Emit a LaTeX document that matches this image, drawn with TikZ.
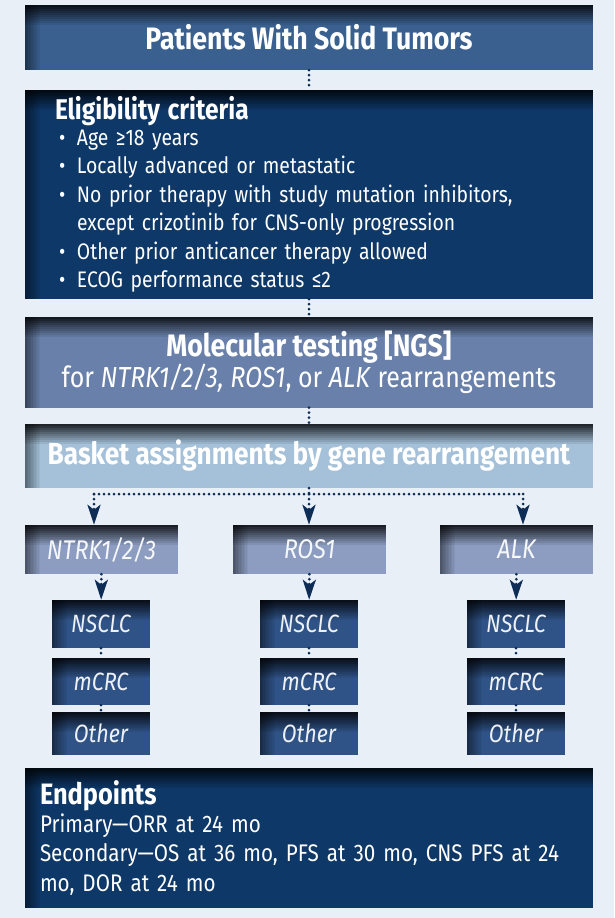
\documentclass[tikz,border=0pt]{standalone}
\usepackage{fontspec}
\setmainfont{Fira Sans}[FakeStretch=0.86]
\usetikzlibrary{arrows.meta,positioning}

\definecolor{bgpage}{HTML}{E9EFF6}
\definecolor{navy}{HTML}{0E3868}
\definecolor{midblue}{HTML}{3A6090}
\definecolor{slate}{HTML}{6981AA}
\definecolor{skyblue}{HTML}{A4C1D9}
\definecolor{lilac}{HTML}{8C9DC1}
\definecolor{leafblue}{HTML}{2F5387}
\definecolor{dotline}{HTML}{0D2D57}

\tikzset{
  panel/.style={rectangle, inner sep=0pt, text=white, align=center, fill=#1,
    path picture={
      \foreach \i [evaluate=\i as \p using {0.45-\i*0.045}] in {0,...,9}
        \fill[black, opacity=\p] ([xshift=1.5*\i pt]path picture bounding box.north west) rectangle ([xshift=1.5*\i pt+1.5pt]path picture bounding box.south west);
      \foreach \i [evaluate=\i as \p using {0.8-\i*0.08}] in {0,...,9}
        \fill[black, opacity=\p] ([yshift=-2*\i pt]path picture bounding box.north west) rectangle ([yshift=-2*\i pt-2pt]path picture bounding box.north east);
    }},
  gene/.style={panel=lilac, minimum width=153pt, minimum height=49pt, font=\fontsize{27}{30}\itshape, text=white!92!lilac},
  leaf/.style={panel=leafblue, minimum width=98pt, font=\fontsize{25}{28}\itshape, text=white!92!leafblue},
  dots/.style={draw=dotline, line width=3pt, dash pattern=on 0pt off 5pt, line cap=round},
  dotarrow/.style={dots, -{Stealth[length=20pt, width=13pt, inset=5pt]}},
}
\newcommand{\bul}{\hspace*{4pt}\makebox[18pt][l]{\textbullet}}

\begin{document}
\begin{tikzpicture}[x=1pt, y=-1pt]
\fill[bgpage] (0,0) rectangle (614,918);
\useasboundingbox (0,0) rectangle (614,918);

\node[panel=midblue, minimum width=568pt, minimum height=65pt, font=\fontsize{31}{34}\bfseries] (patients) at (309,37.5) {Patients With Solid Tumors};

\node[panel=navy, minimum width=568pt, minimum height=209pt, text width=508pt, align=left, font=\fontsize{22.5}{28.5}\selectfont] (elig) at (309,194.5) {%
  {\fontsize{28.5}{28.5}\bfseries Eligibility criteria}\\[-3pt]
  \bul Age ≥18 years\\
  \bul Locally advanced or metastatic\\
  \bul No prior therapy with study mutation inhibitors,\\
  \hspace*{22pt}except crizotinib for CNS-only progression\\
  \bul Other prior anticancer therapy allowed\\
  \bul ECOG performance status ≤2};

\node[panel=slate, minimum width=568pt, minimum height=91pt, font=\fontsize{29}{31}\selectfont] (mol) at (309,362) {%
  {\fontsize{31}{31}\bfseries Molecular testing [NGS]}\\
  for \textit{NTRK1/2/3, ROS1}, or \textit{ALK} rearrangements};

\node[panel=skyblue, minimum width=568pt, minimum height=64pt, font=\fontsize{30.5}{33}\bfseries] (basket) at (309,456) {Basket assignments by gene rearrangement};

\node[gene] (ntrk) at (101.5,549.5) {NTRK1/2/3};
\node[gene] (ros) at (309.5,549.5) {ROS1};
\node[gene] (alk) at (516.5,549.5) {ALK};

\node[leaf, minimum height=48pt] (ntrk-a) at (101,624) {NSCLC};
\node[leaf, minimum height=47pt] (ntrk-b) at (101,681.5) {mCRC};
\node[leaf, minimum height=43pt] (ntrk-c) at (101,733.5) {Other};
\node[leaf, minimum height=48pt] (ros-a) at (309,624) {NSCLC};
\node[leaf, minimum height=47pt] (ros-b) at (309,681.5) {mCRC};
\node[leaf, minimum height=43pt] (ros-c) at (309,733.5) {Other};
\node[leaf, minimum height=48pt] (alk-a) at (516,624) {NSCLC};
\node[leaf, minimum height=47pt] (alk-b) at (516,681.5) {mCRC};
\node[leaf, minimum height=43pt] (alk-c) at (516,733.5) {Other};

\node[panel=navy, minimum width=568pt, minimum height=140pt, text width=538pt, align=left, font=\fontsize{24}{29.5}\selectfont] (endp) at (309,838) {%
  {\fontsize{29.5}{29.5}\bfseries Endpoints}\\[-2pt]
  Primary—ORR at 24 mo\\
  Secondary—OS at 36 mo, PFS at 30 mo, CNS PFS at 24\\
  mo, DOR at 24 mo};

% dotted connectors
\draw[dots] (patients) -- (elig);
\draw[dots] (elig) -- (mol);
\draw[dots] (mol) -- (basket);
\coordinate (split) at (309,494);
\coordinate (splitL) at (94,494);
\coordinate (splitR) at (523,494);
\draw[dots] (basket.south) -- (split);
\draw[dots] (splitL) -- (splitR);
\draw[dotarrow] (splitL) -- (splitL |- ntrk.north);
\draw[dotarrow] (split) -- (split |- ros.north);
\draw[dotarrow] (splitR) -- (splitR |- alk.north);

\draw[dotarrow] (ntrk) -- (ntrk-a);
\draw[dotarrow] (ros) -- (ros-a);
\draw[dotarrow] (alk) -- (alk-a);
\draw[dots] (ntrk-a) -- (ntrk-b);
\draw[dots] (ntrk-b) -- (ntrk-c);
\draw[dots] (ros-a) -- (ros-b);
\draw[dots] (ros-b) -- (ros-c);
\draw[dots] (alk-a) -- (alk-b);
\draw[dots] (alk-b) -- (alk-c);
\end{tikzpicture}
\end{document}
